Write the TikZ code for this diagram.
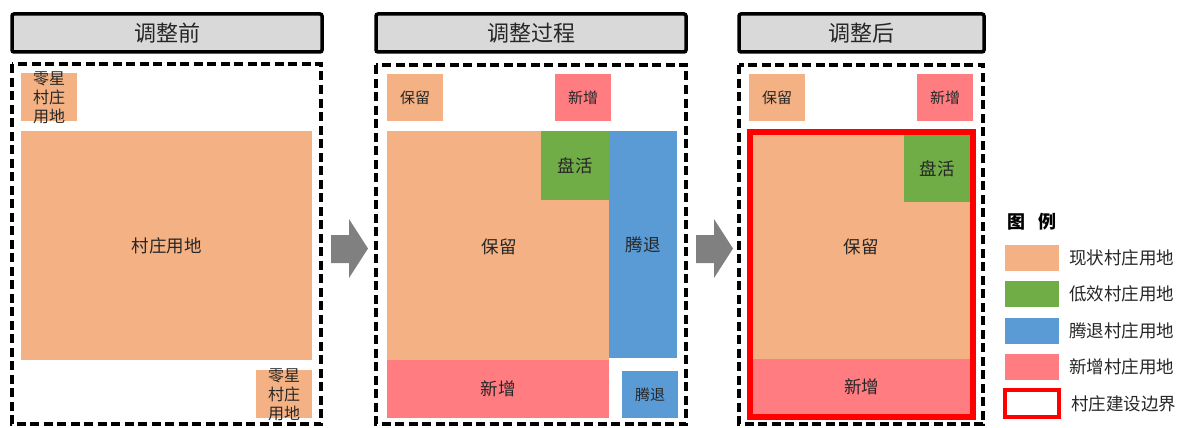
\documentclass[tikz,border=0pt]{standalone}
\usepackage{fontspec}
\setmainfont{Noto Sans CJK SC}
\definecolor{cOr}{HTML}{F4B183}
\definecolor{cGr}{HTML}{70AD47}
\definecolor{cBl}{HTML}{5B9BD5}
\definecolor{cPk}{HTML}{FF7C80}
\definecolor{cTi}{HTML}{D9D9D9}
\definecolor{cAr}{HTML}{808080}
\definecolor{cTx}{HTML}{262626}
\begin{document}
\begin{tikzpicture}[x=1pt,y=-1pt,
  blk/.style={draw=none,inner sep=0pt,outer sep=0pt,anchor=center,text=cTx,align=center},
  lbls/.style={font=\fontsize{15}{18.5}\selectfont},
  lblz/.style={font=\fontsize{16}{19}\selectfont},
  lblb/.style={font=\fontsize{17.5}{20}\selectfont},
  titlebox/.style={draw=black,line width=3.5pt,rounded corners=2pt,fill=cTi,inner sep=0pt,
    font=\fontsize{22}{24}\selectfont,text=cTx},
  dashbox/.style={draw=black,line width=3.5pt,dash pattern=on 9pt off 4.5pt,fill=none},
  legtxt/.style={anchor=west,inner sep=0pt,text=cTx,font=\fontsize{17.5}{20}\selectfont},
  blockarrow/.style={fill=cAr,draw=none}]
\useasboundingbox (0,0) rectangle (1183,428);
% ---------- panel 1 ----------
\node[titlebox,minimum width=310pt,minimum height=38pt] (t1) at (167,33) {调整前};
\draw[dashbox] (12,64) rectangle (321,424);
\node[blk,fill=cOr,minimum width=56pt,minimum height=48pt] (z1) at (49,97) {};
\node[blk,lblz] (z1l) at (49,98) {零星\\村庄\\用地};
\node[blk,lblb,fill=cOr,minimum width=291pt,minimum height=229pt] (big1) at (166.5,245.5) {村庄用地};
\node[blk,fill=cOr,minimum width=56pt,minimum height=48pt] (z2) at (284,394) {};
\node[blk,lblz] (z2l) at (284,395) {零星\\村庄\\用地};
% arrow 1
\fill[blockarrow] (331,235) -- (349,235) -- (349,219) -- (368,248.5) -- (349,278) -- (349,263) -- (331,263) -- cycle;
% ---------- panel 2 ----------
\node[titlebox,minimum width=310pt,minimum height=38pt] (t2) at (531,33) {调整过程};
\draw[dashbox] (376,65) rectangle (686,424);
\node[blk,lbls,fill=cOr,minimum width=56pt,minimum height=47pt] (bl2) at (415,97.5) {保留};
\node[blk,lbls,fill=cPk,minimum width=56pt,minimum height=47pt] (xz2) at (583,97.5) {新增};
\node[blk,fill=cOr,minimum width=222pt,minimum height=229pt] (big2) at (498,245.5) {};
\node[blk,lblb] (big2l) at (499,247) {保留};
\node[blk,lblb,fill=cGr,minimum width=68pt,minimum height=69pt] (gr2) at (575,165.5) {盘活};
\node[blk,lblb,fill=cBl,minimum width=68pt,minimum height=227pt] (bu2) at (643,244.5) {腾退};
\node[blk,lblb,fill=cPk,minimum width=222pt,minimum height=58pt] (pk2) at (498,389) {新增};
\node[blk,lbls,fill=cBl,minimum width=56pt,minimum height=47pt] (bs2) at (650,394.5) {腾退};
% arrow 2
\fill[blockarrow] (696,235) -- (714,235) -- (714,219) -- (733,248.5) -- (714,278) -- (714,263) -- (696,263) -- cycle;
% ---------- panel 3 ----------
\node[titlebox,minimum width=245pt,minimum height=38pt] (t3) at (861.5,33) {调整后};
\draw[dashbox] (739,65) rectangle (983,424);
\node[blk,lbls,fill=cOr,minimum width=56pt,minimum height=47pt] (bl3) at (777,97.5) {保留};
\node[blk,lbls,fill=cPk,minimum width=56pt,minimum height=47pt] (xz3) at (945,97.5) {新增};
\node[blk,fill=cOr,minimum width=217pt,minimum height=224pt] (big3) at (861.5,247) {};
\node[blk,lblb] (big3l) at (861,247) {保留};
\node[blk,lblb,fill=cGr,minimum width=66pt,minimum height=67pt] (gr3) at (937,168.5) {盘活};
\node[blk,lblb,fill=cPk,minimum width=217pt,minimum height=56pt] (pk3) at (861.5,387) {新增};
\draw[red,line width=6pt] (750,132) rectangle (973,417);
% ---------- legend ----------
\node[inner sep=0pt,text=black,font=\fontsize{18}{20}\selectfont\bfseries] (lt) at (1032,222) {图\hspace{14pt}例};
\node[blk,fill=cOr,minimum width=54pt,minimum height=26pt] (s1) at (1032,258) {};
\node[blk,fill=cGr,minimum width=54pt,minimum height=26pt] (s2) at (1032,294) {};
\node[blk,fill=cBl,minimum width=54pt,minimum height=26pt] (s3) at (1032,331) {};
\node[blk,fill=cPk,minimum width=54pt,minimum height=26pt] (s4) at (1032,367) {};
\node[blk,draw=red,line width=4.5pt,minimum width=54pt,minimum height=27pt] (s5) at (1032,403.5) {};
\node[legtxt] (l1) at (1069,258) {现状村庄用地};
\node[legtxt] (l2) at (1069,294) {低效村庄用地};
\node[legtxt] (l3) at (1069,331) {腾退村庄用地};
\node[legtxt] (l4) at (1069,367) {新增村庄用地};
\node[legtxt] (l5) at (1071,403.5) {村庄建设边界};
\end{tikzpicture}
\end{document}
